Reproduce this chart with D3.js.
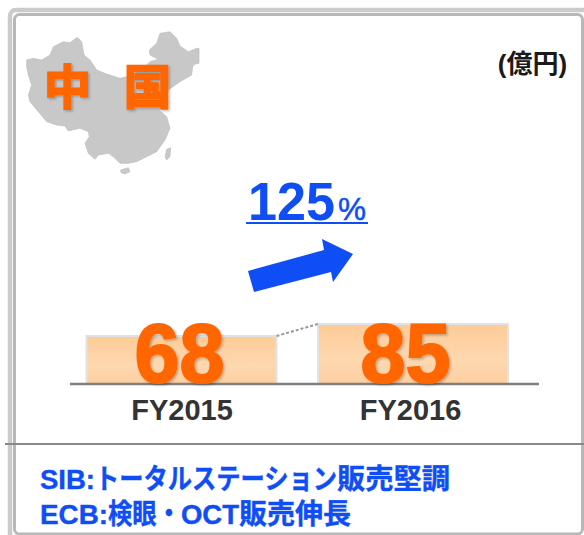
<!DOCTYPE html>
<html><head><meta charset="utf-8"><script src="https://cdn.jsdelivr.net/npm/d3@7"></script>
<style>html,body{margin:0;padding:0;background:#fff;overflow:hidden}svg{display:block}text{font-family:"Liberation Sans","Noto Sans CJK JP",sans-serif}</style>
</head><body><svg id="c" width="584" height="535"></svg>
<script>
const categories=["FY2015","FY2016"];
const values=[68,85];
const growthValue="125";
const growthUnit="%";
const unitLabel="(億円)";
const regionChars=["中","国"];
const noteRuns=[["SIB:","トータルステーション","販売堅調"],["ECB:","検眼・","OCT","販売伸長"]];
const noteWidths=[[55,242,113],[68,73,58,112]];
const mainland=[[80,180],[100,175],[125,180],[150,165],[160,140],[190,125],[210,128],[232,112],[245,125],[252,165],[270,180],[290,210],[320,222],[360,235],[390,228],[430,205],[450,185],[475,178],[450,165],[448,150],[470,130],[480,100],[510,95],[530,115],[540,138],[565,155],[590,145],[597,145],[597,190],[585,192],[578,200],[575,225],[540,245],[505,270],[495,305],[478,330],[500,350],[510,385],[495,420],[470,455],[440,470],[410,485],[385,490],[360,490],[340,470],[325,460],[295,465],[285,478],[265,460],[255,430],[268,410],[265,395],[240,385],[205,393],[195,378],[170,375],[140,365],[115,335],[90,305],[85,285],[95,255],[85,225],[80,200]];
const hainan=[[362,510],[385,503],[390,515],[375,522],[363,518]];
const taiwan=[[495,470],[500,448],[512,443],[510,470],[500,480]];

const svg=d3.select("#c");
const defs=svg.append("defs");
const g=defs.append("linearGradient").attr("id","bar").attr("x1",0).attr("y1",0).attr("x2",0).attr("y2",1);
g.append("stop").attr("offset",0).attr("stop-color","#fdcb97");
g.append("stop").attr("offset",.6).attr("stop-color","#fed8b0");
g.append("stop").attr("offset",1).attr("stop-color","#fdcfa0");
const sh=defs.append("filter").attr("id","sh").attr("x","-20%").attr("y","-20%").attr("width","140%").attr("height","140%");
sh.append("feDropShadow").attr("dx",1.5).attr("dy",1.5).attr("stdDeviation",1).attr("flood-color","#000").attr("flood-opacity",.25);

// frame
svg.append("rect").attr("x",10).attr("y",10).attr("width",600).attr("height",560).attr("rx",6).attr("fill","none").attr("stroke","#cbcbcb").attr("stroke-width",4.5);
svg.append("rect").attr("x",14.5).attr("y",14.5).attr("width",568).attr("height",519.5).attr("rx",5).attr("fill","#fff").attr("stroke","#b8b8b8").attr("stroke-width",3);

// map
const mx=d3.scaleLinear().domain([0,3]).range([0,1]);
const line=d3.line().x(d=>mx(d[0])).y(d=>mx(d[1])).curve(d3.curveLinearClosed);
svg.append("g").selectAll("path").data([mainland,hainan,taiwan]).join("path").attr("d",line).attr("fill","#c8c8c8").attr("stroke","#bbb").attr("stroke-width",.6);

svg.append("g").selectAll("text").data(regionChars).join("text")
 .attr("x",(d,i)=>i?147.5:67.5).attr("y",104).attr("text-anchor","middle")
 .attr("font-size",47).attr("font-weight",700).attr("fill","#ff6600").attr("stroke","#ff6600").attr("stroke-width",2).attr("filter","url(#sh)").text(d=>d);

svg.append("text").attr("x",532.5).attr("y",73).attr("text-anchor","middle").attr("font-size",26).attr("font-weight",700).attr("fill","#1a1a1a").text(unitLabel);

// growth
const gt=svg.append("text").attr("y",220).attr("fill","#0f4df5").attr("font-weight",700);
gt.append("tspan").attr("x",248).attr("font-size",53).attr("textLength",87).attr("lengthAdjust","spacingAndGlyphs").text(growthValue);
gt.append("tspan").attr("x",338).attr("font-size",32).attr("font-weight",400).attr("textLength",28).attr("lengthAdjust","spacingAndGlyphs").attr("stroke","#0f4df5").attr("stroke-width",.5).text(growthUnit);
svg.append("rect").attr("x",246).attr("y",222).attr("width",122).attr("height",2).attr("fill","#0f4df5");
svg.append("path").attr("d",d3.line()([[248,271],[324,250],[322,239],[353,254],[333,282],[331,272],[254,292]])).attr("fill","#0f4df5");

// bars
const x=d3.scalePoint().domain(categories).range([181.5,413]);
const y=d3.scaleLinear().domain([0,85]).range([384,324]);
const bw=190;
svg.append("g").selectAll("rect").data(values).join("rect")
 .attr("x",(d,i)=>x(categories[i])-bw/2).attr("y",d=>y(d)).attr("width",bw).attr("height",d=>y(0)-y(d))
 .attr("fill","url(#bar)").attr("stroke","#e2e2e2").attr("stroke-width",2);
svg.append("line").attr("x1",x(categories[0])+bw/2).attr("x2",x(categories[1])-bw/2).attr("y1",y(values[0])).attr("y2",y(values[1]))
 .attr("stroke","#999").attr("stroke-width",2).attr("stroke-dasharray","3 2");
svg.append("line").attr("x1",70).attr("x2",539).attr("y1",384).attr("y2",384).attr("stroke","#808080").attr("stroke-width",2.5);
svg.append("g").selectAll("text").data(values).join("text")
 .attr("x",(d,i)=>x(categories[i])-(i?7.5:2)-45).attr("y",382)
 .attr("font-size",83).attr("font-weight",700).attr("fill","#ff6600").attr("stroke","#ff6600").attr("stroke-width",2)
 .attr("textLength",90).attr("lengthAdjust","spacingAndGlyphs").attr("filter","url(#sh)").text(d=>d);
const axis=d3.axisBottom(x).tickSize(0).tickPadding(0);
const ax=svg.append("g").attr("transform","translate(0,402)").call(axis);
ax.select(".domain").remove();
ax.selectAll("text").attr("dy","18").attr("dx",(d,i)=>i?-3:0).attr("font-size",29).attr("font-weight",700).attr("fill","#333").style("font-family",'"Liberation Sans",sans-serif');

// divider
svg.append("line").attr("x1",5).attr("x2",584).attr("y1",444).attr("y2",444).attr("stroke","#888").attr("stroke-width",2);

// notes
noteRuns.forEach((runs,r)=>{
  let cx=40;
  const t=svg.append("text").attr("y",r?524:489).attr("font-size",28).attr("font-weight",700)
     .attr("fill","#0f4df5").attr("stroke","#0f4df5").attr("stroke-width",.4);
  runs.forEach((s,i)=>{
    t.append("tspan").attr("x",cx).attr("textLength",noteWidths[r][i]).attr("lengthAdjust","spacingAndGlyphs").text(s);
    cx+=noteWidths[r][i];
  });
});
</script></body></html>
